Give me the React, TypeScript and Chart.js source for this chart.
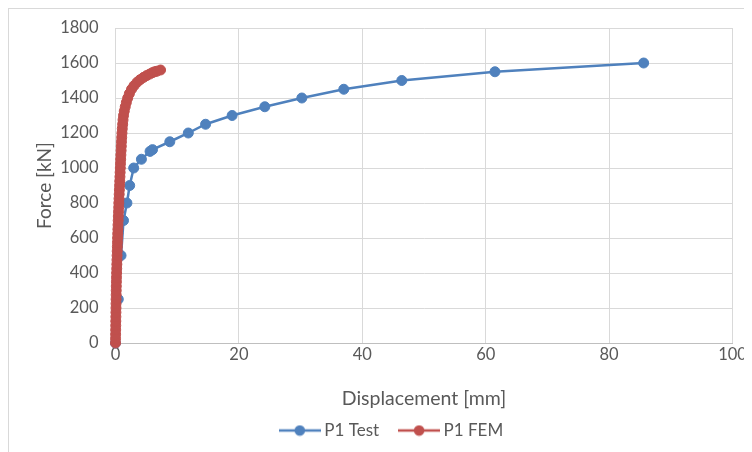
import React, { useEffect, useRef } from "react";
import { Chart, registerables } from "chart.js";

Chart.register(...registerables);

// P1 Test: displacement [mm] / force [kN]
const testDisp = [0, 0.45, 0.9, 1.3, 1.85, 2.3, 2.95, 4.2, 5.6, 6.0, 8.8, 11.8, 14.6, 18.9, 24.2, 30.2, 37.0, 46.4, 61.5, 85.6];
const testForce = [0, 250, 500, 700, 800, 900, 1000, 1050, 1095, 1105, 1150, 1200, 1250, 1300, 1350, 1400, 1450, 1500, 1550, 1600];

// P1 FEM: displacement [mm] / force [kN]
const femDisp = [
  0, 0.01, 0.02, 0.03, 0.04, 0.05, 0.06, 0.07, 0.08, 0.09,
  0.1, 0.11, 0.12, 0.13, 0.15, 0.16, 0.18, 0.2, 0.22, 0.24,
  0.26, 0.28, 0.3, 0.32, 0.34, 0.36, 0.39, 0.41, 0.44, 0.46,
  0.49, 0.52, 0.54, 0.57, 0.6, 0.63, 0.66, 0.69, 0.72, 0.75,
  0.78, 0.81, 0.84, 0.87, 0.91, 0.94, 0.97, 1.01, 1.05, 1.1,
  1.16, 1.22, 1.3, 1.42, 1.58, 1.76, 1.98, 2.25, 2.6, 3.0,
  3.5, 4.0, 4.55, 5.05, 5.55, 6.0, 6.35, 6.7, 7.3,
];
const femForce = [
  0, 25, 50, 75, 100, 125, 150, 175, 200, 225,
  250, 275, 300, 325, 350, 375, 400, 425, 450, 475,
  500, 525, 550, 575, 600, 625, 650, 675, 700, 725,
  750, 775, 800, 825, 850, 875, 900, 925, 950, 975,
  1000, 1025, 1050, 1075, 1100, 1125, 1150, 1175, 1200, 1225,
  1250, 1275, 1300, 1325, 1350, 1375, 1400, 1425, 1450, 1470,
  1490, 1505, 1518, 1528, 1537, 1545, 1550, 1553, 1560,
];

const seriesNames = ["P1 Test", "P1 FEM"];
const seriesColors = ["#4F81BD", "#C0504D"];
const xAxisTitle = "Displacement [mm]";
const yAxisTitle = "Force [kN]";
const xRange = [0, 100, 20];
const yRange = [0, 1800, 200];

const TEXT = "#595959";
const FONT = "Lato";

function swatch(color: string) {
  const c = document.createElement("canvas");
  c.width = 42;
  c.height = 12;
  const g = c.getContext("2d")!;
  g.strokeStyle = color;
  g.lineWidth = 2.5;
  g.beginPath();
  g.moveTo(0, 6);
  g.lineTo(42, 6);
  g.stroke();
  g.fillStyle = color;
  g.beginPath();
  g.arc(21, 6, 5.3, 0, Math.PI * 2);
  g.fill();
  return c;
}

export default function App() {
  const ref = useRef<HTMLCanvasElement>(null);

  useEffect(() => {
    const swatches = seriesColors.map(swatch);
    const legendShift = {
      id: "legendShift",
      afterLayout(chart: any) {
        const l = chart.legend;
        if (!l) return;
        const cur = (l.left + l.right) / 2;
        const d = 384.5 - cur;
        l.left += d;
        l.right += d;
      },
    };
    const chart = new Chart(ref.current!, {
      type: "scatter",
      data: {
        datasets: [
          {
            label: seriesNames[0],
            data: testDisp.map((x, i) => ({ x, y: testForce[i] })),
            showLine: true,
            borderColor: seriesColors[0],
            backgroundColor: seriesColors[0],
            borderWidth: 2.5,
            pointRadius: 5,
            pointBorderWidth: 1,
            pointBorderColor: seriesColors[0],
            pointBackgroundColor: seriesColors[0],
            clip: false,
            order: 1,
          },
          {
            label: seriesNames[1],
            data: femDisp.map((x, i) => ({ x, y: femForce[i] })),
            showLine: true,
            borderColor: seriesColors[1],
            backgroundColor: seriesColors[1],
            borderWidth: 2.5,
            pointRadius: 5,
            pointBorderWidth: 1,
            pointBorderColor: seriesColors[1],
            pointBackgroundColor: seriesColors[1],
            clip: false,
            order: 0,
          },
        ],
      },
      options: {
        responsive: false,
        animation: false,
        events: [],
        layout: { padding: { left: 0, top: 19, right: 19.5, bottom: 3 } },
        plugins: {
          tooltip: { enabled: false },
          legend: {
            position: "bottom",
            labels: {
              usePointStyle: true,
              pointStyleWidth: 32,
              padding: 24,
              color: TEXT,
              font: { family: FONT, size: 17 },
              sort: (a: any, b: any) => a.datasetIndex - b.datasetIndex,
              generateLabels: (c: any) => {
                const items = (Chart.defaults as any).plugins.legend.labels.generateLabels(c);
                return items.map((it: any) => ({
                  ...it,
                  pointStyle: swatches[it.datasetIndex],
                  fontColor: TEXT,
                }));
              },
            },
          },
        },
        scales: {
          x: {
            type: "linear",
            min: xRange[0],
            max: xRange[1],
            ticks: {
              stepSize: xRange[2],
              color: TEXT,
              padding: 2,
              font: { family: FONT, size: 16.5 },
              callback: (v: any) => String(v),
            },
            grid: { color: "#d9d9d9", drawTicks: false },
            border: { color: "#bfbfbf" },
            title: {
              display: true,
              text: xAxisTitle,
              color: TEXT,
              font: { family: FONT, size: 19.5, lineHeight: 1 },
              padding: { top: 0, bottom: -10.5 },
            },
            afterFit: (s: any) => {
              s.height = 55;
            },
          },
          y: {
            type: "linear",
            min: yRange[0],
            max: yRange[1],
            ticks: {
              stepSize: yRange[2],
              color: TEXT,
              padding: 0,
              font: { family: FONT, size: 16.5 },
              callback: (v: any) => String(v),
            },
            grid: {
              color: "#d9d9d9",
              drawTicks: true,
              tickLength: 17,
              tickColor: "rgba(0,0,0,0)",
            },
            border: { color: "#d9d9d9" },
            title: {
              display: true,
              text: yAxisTitle,
              color: TEXT,
              font: { family: FONT, size: 19 },
              padding: { top: 24, bottom: 0 },
            },
            afterFit: (s: any) => {
              s.width = 106.5;
            },
          },
        },
      },
      plugins: [legendShift],
    });
    return () => chart.destroy();
  }, []);

  return (
    <div
      style={{
        width: 744,
        height: 444,
        boxSizing: "border-box",
        borderLeft: "1px solid #d9d9d9",
        borderTop: "1px solid #d9d9d9",
        overflow: "hidden",
        background: "#fff",
      }}
    >
      <canvas ref={ref} width={743} height={443} style={{ display: "block" }} />
    </div>
  );
}
